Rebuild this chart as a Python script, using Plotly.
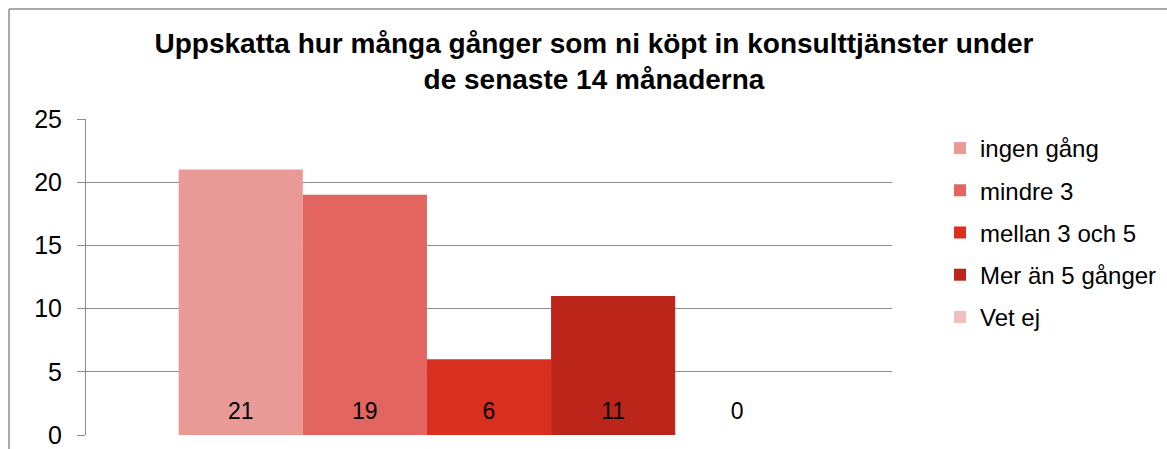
import plotly.graph_objects as go

categories = ["Uppskattning"]
series_names = ["ingen gång", "mindre 3", "mellan 3 och 5", "Mer än 5 gånger", "Vet ej"]
series_values = [21, 19, 6, 11, 0]
colors = ["#E99A96", "#E3655F", "#D82F1F", "#BC261A", "#F0BFBE"]
y_ticks = [0, 5, 10, 15, 20, 25]
LABEL_Y = 1.75

FONT = "Liberation Sans, Arial, sans-serif"

W, H = 1167, 449
ML, MR, MT, MB = 86, 275, 119, 14
PW = W - ML - MR
PH = H - MT - MB

fig = go.Figure()
for name, val, col in zip(series_names, series_values, colors):
    fig.add_trace(go.Bar(
        x=categories, y=[val], name=name, marker_color=col,
        marker_line_width=0, offsetgroup=name, legendgroup=name,
    ))
for name, val in zip(series_names, series_values):
    fig.add_trace(go.Scatter(
        x=categories, y=[LABEL_Y], text=[str(val)], mode="text",
        textfont=dict(size=23, color="#000000", family=FONT),
        offsetgroup=name, legendgroup=name, showlegend=False, hoverinfo="skip",
    ))

def px_x(p):
    return (p - ML) / PW

def px_y(p):
    return 1 - (p - MT) / PH

border = dict(color="#8c8c8c", width=1.5)
fig.add_shape(type="line", xref="paper", yref="paper",
              x0=px_x(9), x1=px_x(1200), y0=px_y(9), y1=px_y(9), line=border)
fig.add_shape(type="line", xref="paper", yref="paper",
              x0=px_x(9), x1=px_x(9), y0=px_y(9), y1=px_y(500), line=border)

fig.update_layout(
    width=W, height=H,
    margin=dict(l=ML, r=MR, t=MT, b=MB, autoexpand=False),
    paper_bgcolor="white", plot_bgcolor="white",
    barmode="group", bargap=0.23, bargroupgap=0,
    scattermode="group", scattergap=0.23,
    font=dict(family=FONT, color="#000000", size=24),
    title=dict(
        text="<b>Uppskatta hur många gånger som ni köpt in konsulttjänster under<br>de senaste 14 månaderna</b>",
        x=594 / W, xanchor="center", y=1 - 53 / H, yanchor="top",
        font=dict(size=28, family=FONT, color="#000000"),
    ),
    xaxis=dict(showticklabels=False, showgrid=False, showline=False, ticks="",
               zeroline=False),
    yaxis=dict(range=[0, 25], tickvals=y_ticks, showgrid=True, gridcolor="#8c8c8c",
               gridwidth=1, showline=True, linecolor="#8c8c8c", linewidth=1,
               ticks="outside", ticklen=8, tickcolor="#8c8c8c", zeroline=False,
               ticklabelstandoff=10,
               tickfont=dict(size=25, family=FONT, color="#000000")),
    legend=dict(x=px_x(940), xanchor="left", y=px_y(126), yanchor="top",
                font=dict(size=24, family=FONT, color="#000000"),
                traceorder="grouped", tracegroupgap=8, bgcolor="rgba(0,0,0,0)"),
    showlegend=True,
)

fig.write_html(
    "out.html",
    config={"displayModeBar": False},
    post_script="document.body.style.margin='0';document.body.style.overflow='hidden';",
)
